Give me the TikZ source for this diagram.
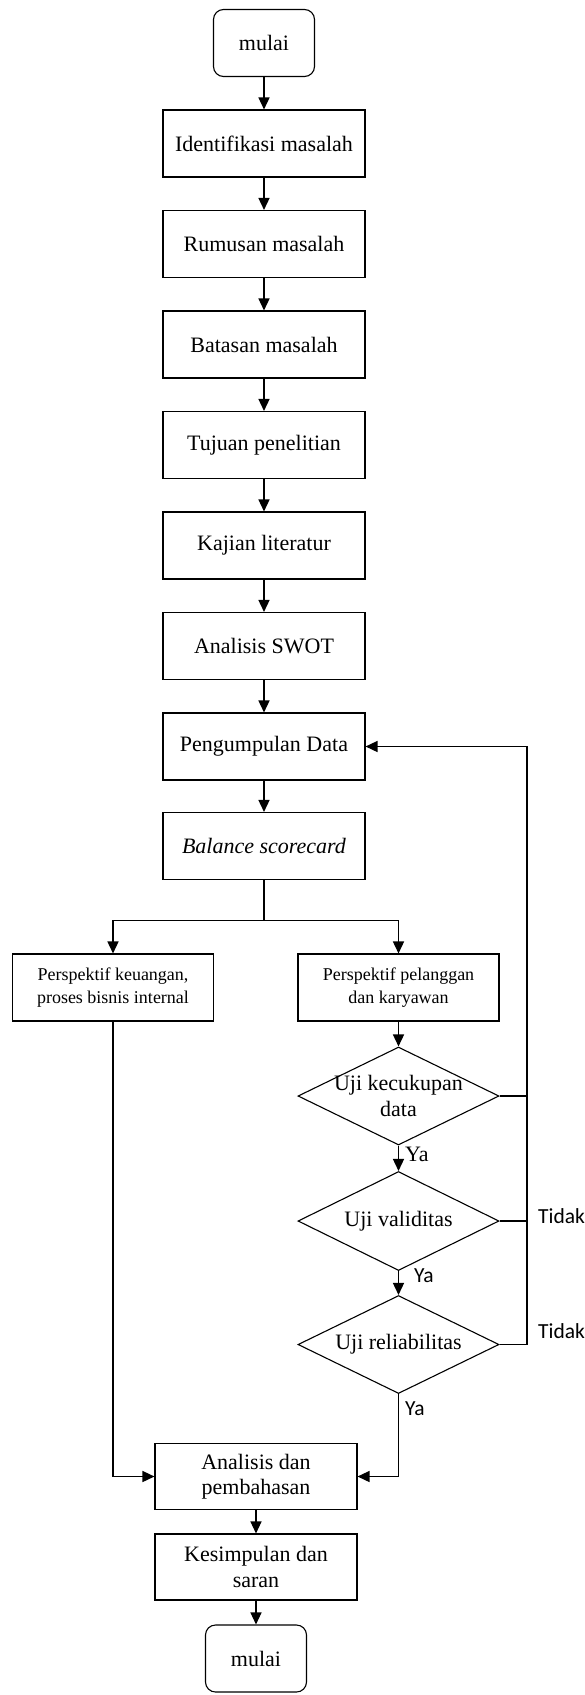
\documentclass[tikz,border=0pt]{standalone}
\usepackage{fontspec}
\setmainfont{Liberation Serif}
\newfontfamily\calib{Carlito}
\usetikzlibrary{shapes.geometric,arrows.meta}
\tikzset{
  base/.style={draw=black, line width=1.1pt, fill=white, inner sep=0pt},
  mainbox/.style={base, rectangle, minimum width=202pt, minimum height=67pt,
    font=\fontsize{22}{25.5}\selectfont, align=center},
  smallbox/.style={base, rectangle, minimum width=201pt, minimum height=67pt,
    font=\fontsize{18}{22.3}\selectfont, align=center},
  termbox/.style={base, rectangle, rounded corners=10pt, minimum width=101pt, minimum height=67pt,
    font=\fontsize{22}{25.5}\selectfont},
  decide/.style={base, diamond, minimum width=201pt, minimum height=98pt},
  dtext/.style={font=\fontsize{22}{25.5}\selectfont, align=center, inner sep=0pt},
  arr/.style={line width=1.5pt, -{Triangle[length=12pt,width=11pt]}},
  ln/.style={line width=1.5pt},
  lblsans/.style={font=\calib\fontsize{21.5}{24}\selectfont, anchor=west, inner sep=0pt},
  lblserif/.style={font=\fontsize{22}{25}\selectfont, anchor=west, inner sep=0pt}
}
\begin{document}
\begin{tikzpicture}[x=1pt,y=-1pt]
\useasboundingbox (0,0) rectangle (585,1695);

\node[termbox] (st) at (264,43) {mulai};
\node[mainbox] (im) at (264,143.5) {Identifikasi masalah};
\node[mainbox] (rm) at (264,244) {Rumusan masalah};
\node[mainbox] (bm) at (264,344.5) {Batasan masalah};
\node[mainbox] (tp) at (264,445) {Tujuan penelitian};
\node[mainbox] (kl) at (264,545.5) {Kajian literatur};
\node[mainbox] (sw) at (264,646) {Analisis SWOT};
\node[mainbox] (pd) at (264,746.5) {Pengumpulan Data};
\node[mainbox] (bs) at (264,846) {\textit{Balance scorecard}};

\node[smallbox] (p1) at (113,987.5) {Perspektif keuangan,\\proses bisnis internal};
\node[smallbox] (p2) at (398.5,987.5) {Perspektif pelanggan\\dan karyawan};

\node[decide] (d1) at (398.5,1096) {};
\node[dtext] (t1) at (d1.center) {Uji kecukupan\\data};
\node[decide, minimum height=99pt] (d2) at (398.5,1221) {};
\node[dtext] (t2) at (d2.center) {Uji validitas};
\node[decide] (d3) at (398.5,1344.5) {};
\node[dtext] (t3) at (d3.center) {Uji reliabilitas};

\node[mainbox, minimum height=66.5pt] (an) at (256,1476.5) {Analisis dan\\pembahasan};
\node[mainbox, minimum height=66pt] (ks) at (256,1567) {Kesimpulan dan\\saran};
\node[termbox] (en) at (256,1658.5) {mulai};

% main chain
\draw[arr] (st) -- (im);
\draw[arr] (im) -- (rm);
\draw[arr] (rm) -- (bm);
\draw[arr] (bm) -- (tp);
\draw[arr] (tp) -- (kl);
\draw[arr] (kl) -- (sw);
\draw[arr] (sw) -- (pd);
\draw[arr] (pd) -- (bs);

% branch
\coordinate (br) at (264,920.7);
\draw[ln] (bs.south) -- (br);
\draw[arr] (br) -| (p1.north);
\draw[arr] (br) -| (p2.north);

\draw[arr] (p2) -- (d1);
\draw[arr] (d1) -- (d2);
\draw[arr] (d2) -- (d3);

% to analysis
\draw[arr] (p1.south) |- (an.west);
\draw[arr] (d3.south) |- (an.east);

% feedback
\coordinate (fb) at (527,746.5);
\draw[ln] (d1.east) -- (d1.east -| fb);
\draw[ln] (d2.east) -- (d2.east -| fb);
\draw[arr] (d3.east) -| (fb) -- (pd.east);

\draw[arr, line width=1.2pt] (an) -- (ks);
\draw[arr, line width=1.2pt] (ks) -- (en);

% labels
\node[lblserif] (y1) at (405,1154) {Ya};
\node[lblsans] (y2) at (414,1276) {Ya};
\node[lblsans] (y3) at (405,1409) {Ya};
\node[lblsans] (n1) at (538,1216) {Tidak};
\node[lblsans] (n2) at (538,1331) {Tidak};
\end{tikzpicture}
\end{document}
